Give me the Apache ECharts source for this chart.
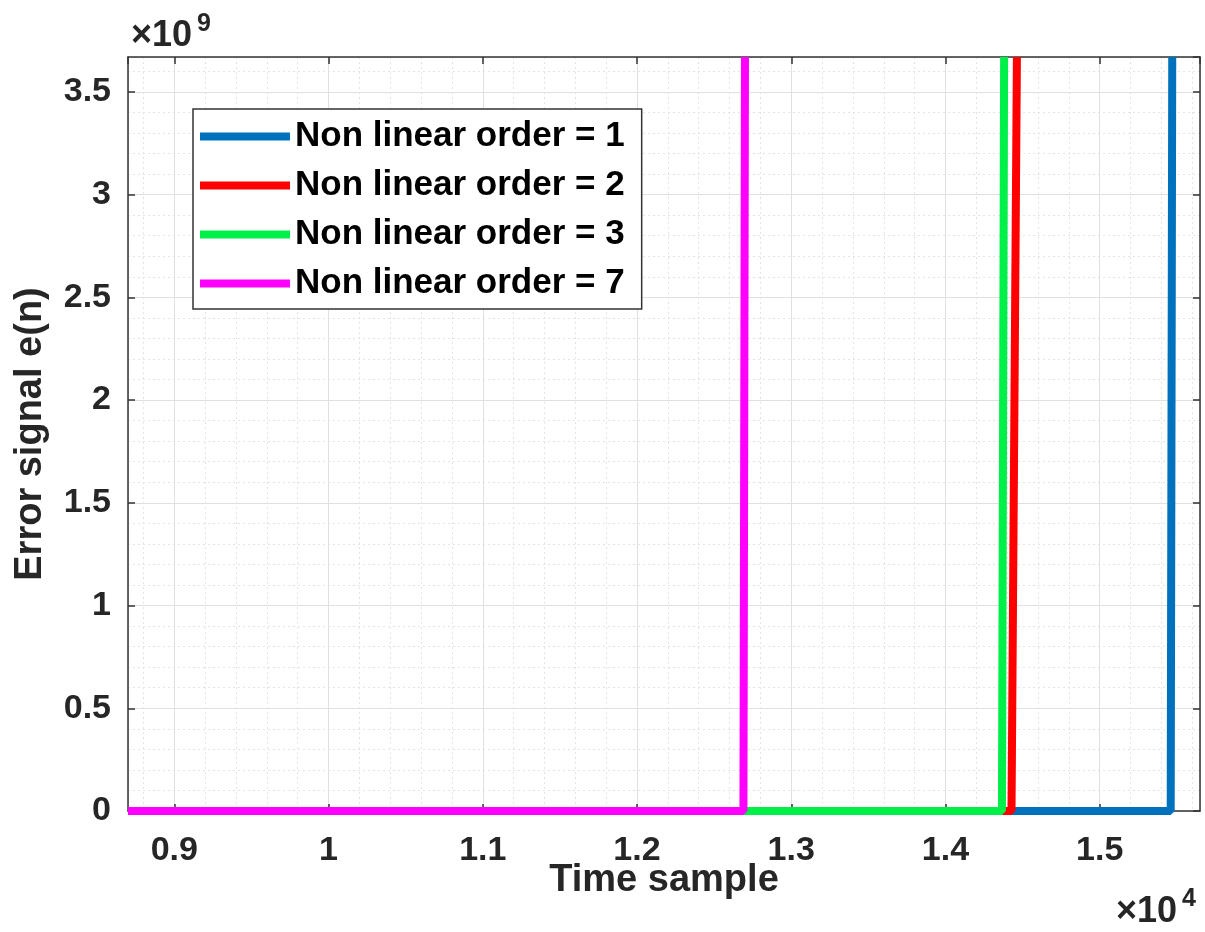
<!DOCTYPE html>
<html>
<head>
<meta charset="utf-8">
<title>Error signal</title>
<script src="https://cdn.jsdelivr.net/npm/echarts@6/dist/echarts.min.js"></script>
<style>
  html, body { margin: 0; padding: 0; background: #fff; }
  #chart { width: 1205px; height: 932px; }
</style>
</head>
<body>
<div id="chart"></div>
<script>
/* data */
var seriesNames = ['Non linear order = 1', 'Non linear order = 2', 'Non linear order = 3', 'Non linear order = 7']
var seriesColors = ['#0072bd', '#ff0000', '#00f04a', '#ff00ff']
var jumpStart = [15460, 14428, 14366, 12690]   // last sample where e(n) is still 0
var jumpEnd = [15470, 14463, 14380, 12700]     // sample where it reaches the top of the axis
var xMin = 8700, xMax = 15650
var yMin = 0, yMax = 3.67e9, yStep = 0.5e9

var font = 'Liberation Sans, Arial, sans-serif'
var textColor = '#262626'

var buildSeries = function () {
  var list = []
  seriesNames.forEach(function (name, i) {
    list.push({
      name: name,
      type: 'line',
      showSymbol: false,
      symbol: 'none',
      clip: true,
      color: seriesColors[i],
      lineStyle: { width: 8, color: seriesColors[i] },
      data: [[xMin, 0], [jumpStart[i], 0], [jumpEnd[i], yMax]]
    })
  })
  return list
}

var axisBase = function () {
  return {
    axisLine: { show: true, onZero: false, lineStyle: { color: '#333', width: 1.5 } },
    axisTick: { show: true, inside: true, length: 7, lineStyle: { color: '#333', width: 1.5 } },
    minorTick: { show: false, splitNumber: 5 }
  }
}

var chart = echarts.init(document.getElementById('chart'))

var xMain = Object.assign(axisBase(), {
  type: 'value',
  position: 'bottom',
  min: xMin,
  max: xMax,
  splitNumber: 7,
  name: 'Time sample',
  nameLocation: 'middle',
  nameGap: 51,
  nameMoveOverlap: false,
  nameTextStyle: { fontFamily: font, fontSize: 38, fontWeight: 'bold', color: textColor },
  axisLabel: {
    margin: 23,
    showMinLabel: false,
    showMaxLabel: false,
    fontFamily: font, fontSize: 34, fontWeight: 'bold', color: textColor,
    formatter: function (v) { return String(+(v / 1e4).toFixed(2)) }
  },
  splitLine: { show: true, lineStyle: { color: '#e0e0e0', width: 1 } },
  minorSplitLine: { show: true, lineStyle: { color: '#e4e4e4', width: 1, type: [2, 3] } }
})

var xTop = Object.assign(axisBase(), {
  type: 'value',
  position: 'top',
  min: xMin,
  max: xMax,
  splitNumber: 7,
  axisLabel: { show: false },
  splitLine: { show: false }
})

var yMain = Object.assign(axisBase(), {
  type: 'value',
  position: 'left',
  min: yMin,
  max: yMax,
  interval: yStep,
  name: 'Error signal e(n)',
  nameLocation: 'middle',
  nameGap: 78,
  nameMoveOverlap: false,
  nameTextStyle: { fontFamily: font, fontSize: 38, fontWeight: 'bold', color: textColor },
  axisLabel: {
    margin: 17,
    showMaxLabel: false,
    fontFamily: font, fontSize: 34, fontWeight: 'bold', color: textColor,
    formatter: function (v) { return String(+(v / 1e9).toFixed(2)) }
  },
  splitLine: { show: true, lineStyle: { color: '#e0e0e0', width: 1 } },
  minorSplitLine: { show: true, lineStyle: { color: '#e4e4e4', width: 1, type: [2, 3] } }
})

var yRight = Object.assign(axisBase(), {
  type: 'value',
  position: 'right',
  min: yMin,
  max: yMax,
  interval: yStep,
  axisLabel: { show: false },
  splitLine: { show: false }
})

var options = {
  backgroundColor: '#fff',
  animation: false,
  grid: { left: 128, right: 5, top: 57, bottom: 121, containLabel: false, outerBoundsMode: 'none' },
  legend: {
    data: seriesNames,
    orient: 'vertical',
    left: 193,
    top: 109,
    padding: [10, 17, 8, 7],
    itemGap: 14,
    itemWidth: 90,
    itemHeight: 8,
    icon: 'rect',
    backgroundColor: '#fff',
    borderColor: '#333',
    borderWidth: 1.5,
    borderRadius: 0,
    selectedMode: false,
    textStyle: { fontFamily: font, fontSize: 35, fontWeight: 'bold', color: '#000', lineHeight: 34 }
  },
  xAxis: [xMain, xTop],
  yAxis: [yMain, yRight],
  series: buildSeries(),
  graphic: [
    { type: 'text', left: 131, top: 18, style: { text: '×10', font: 'bold 36px ' + font, fill: textColor } },
    { type: 'text', left: 197, top: 12, style: { text: '9', font: 'bold 25px ' + font, fill: textColor } },
    { type: 'text', left: 1116, top: 894, style: { text: '×10', font: 'bold 36px ' + font, fill: textColor } },
    { type: 'text', left: 1182, top: 887, style: { text: '4', font: 'bold 25px ' + font, fill: textColor } }
  ]
}

chart.setOption(options)
</script>
</body>
</html>
